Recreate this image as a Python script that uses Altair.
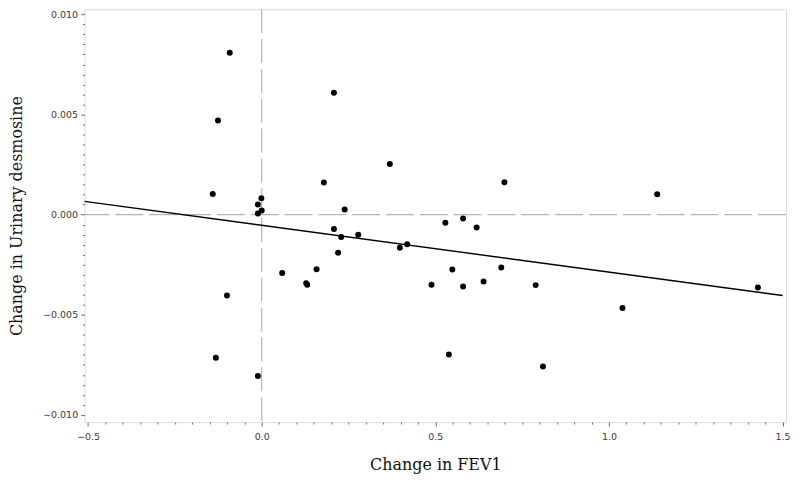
import altair as alt
import pandas as pd

# Data
fev1 = [-0.092, 0.208, -0.126, 0.369, 0.179, -0.141, -0.001, -0.011, 0.239, 0.000,
        -0.011, 0.208, 0.229, 0.278, 0.220, 0.398, 0.419, 0.059, 0.158, 0.128,
        0.131, 0.489, -0.100, -0.132, -0.011, 0.699, 1.139, 0.529, 0.580, 0.619,
        0.549, 0.580, 0.639, 0.690, 0.789, 1.039, 1.429, 0.539, 0.810]
desmosine = [0.00808, 0.00609, 0.00470, 0.00253, 0.00160, 0.00103, 0.00082, 0.00051, 0.00026, 0.00021,
             0.00006, -0.00072, -0.00112, -0.00100, -0.00190, -0.00165, -0.00148, -0.00291, -0.00273, -0.00342,
             -0.00350, -0.00350, -0.00404, -0.00715, -0.00806, 0.00162, 0.00102, -0.00041, -0.00019, -0.00064,
             -0.00274, -0.00359, -0.00334, -0.00264, -0.00352, -0.00466, -0.00364, -0.00698, -0.00758]

# fitted regression line (intercept, slope)
fit_intercept = -0.00053
fit_slope = -0.00234
fit_x = [-0.51, 1.50]
fit_y = [fit_intercept + fit_slope * v for v in fit_x]

x_major = [-0.5, 0.0, 0.5, 1.0, 1.5]
y_major = [-0.010, -0.005, 0.000, 0.005, 0.010]
x_ticks = [round(-0.5 + 0.05 * i, 4) for i in range(41)]
y_ticks = [round(-0.010 + 0.0005 * i, 6) for i in range(41)]

x_domain = [-0.51, 1.51]
y_domain = [-0.01036, 0.01026]

pts = pd.DataFrame({"fev1": fev1, "desmosine": desmosine})
fit = pd.DataFrame({"fev1": fit_x, "desmosine": fit_y})
ref = pd.DataFrame({"fev1": [0.0], "desmosine": [0.0]})

GRAY = "#6e6e6e"
LABEL = "#3a3a3a"

X_MAJOR_TEST = "abs(datum.value*2 - round(datum.value*2)) < 1e-6"
Y_MAJOR_TEST = "abs(datum.value*200 - round(datum.value*200)) < 1e-6"

x_axis = alt.Axis(
    values=x_ticks,
    labelExpr=X_MAJOR_TEST + " ? format(datum.value, '.1f') : ''",
    tickSize={"condition": {"test": X_MAJOR_TEST, "value": 4}, "value": 2},
    tickColor=GRAY,
    tickWidth=1,
    domain=False,
    grid=False,
    labelFont="DejaVu Sans",
    labelFontSize=9.5,
    labelColor=LABEL,
    labelPadding=6,
    labelOverlap=False,
    labelFlush=False,
    labelBound=False,
    title="Change in FEV1",
    titleFont="DejaVu Serif",
    titleFontSize=16,
    titleFontWeight="normal",
    titleColor="#111111",
    titleBaseline="middle",
    titleX=352.5,
    titleY=43,
)

y_axis = alt.Axis(
    values=y_ticks,
    labelExpr=Y_MAJOR_TEST + " ? format(datum.value, '.3f') : ''",
    tickSize={"condition": {"test": Y_MAJOR_TEST, "value": 4}, "value": 2},
    tickColor=GRAY,
    tickWidth=1,
    domain=False,
    grid=False,
    labelFont="DejaVu Sans",
    labelFontSize=9.5,
    labelColor=LABEL,
    labelPadding=3,
    labelOverlap=False,
    labelFlush=False,
    labelBound=False,
    title="Change in Urinary desmosine",
    titleFont="DejaVu Serif",
    titleFontSize=16,
    titleFontWeight="normal",
    titleColor="#111111",
    titleAngle=270,
    titleBaseline="middle",
    titleX=-68,
    titleY=207.5,
)

xs = alt.Scale(domain=x_domain, nice=False, zero=False)
ys = alt.Scale(domain=y_domain, nice=False, zero=False)

hrule = alt.Chart(ref).mark_rule(color="#b3b3b3", strokeWidth=1.2, strokeDash=[28, 6]).encode(
    y=alt.Y("desmosine:Q", scale=ys, axis=y_axis)
)
vrule = alt.Chart(ref).mark_rule(color="#b3b3b3", strokeWidth=1.2, strokeDash=[24, 6]).encode(
    x=alt.X("fev1:Q", scale=xs, axis=x_axis)
)

line = alt.Chart(fit).mark_line(color="black", strokeWidth=1.4).encode(
    x=alt.X("fev1:Q", scale=xs, axis=x_axis),
    y=alt.Y("desmosine:Q", scale=ys, axis=y_axis),
)

points = alt.Chart(pts).mark_circle(size=36, color="black", opacity=1).encode(
    x=alt.X("fev1:Q", scale=xs, axis=x_axis),
    y=alt.Y("desmosine:Q", scale=ys, axis=y_axis),
)

chart = alt.layer(hrule, vrule, line, points).properties(
    width=705,
    height=415,
    autosize=alt.AutoSizeParams(type="none"),
    padding={"left": 77, "top": 0, "right": 6, "bottom": 52},
).configure_view(
    stroke=GRAY,
    strokeWidth=1,
).configure_axis(
    labelOverlap=False,
).configure(background="white")

chart.save("out.html", embed_options={"renderer": "svg", "actions": False})
